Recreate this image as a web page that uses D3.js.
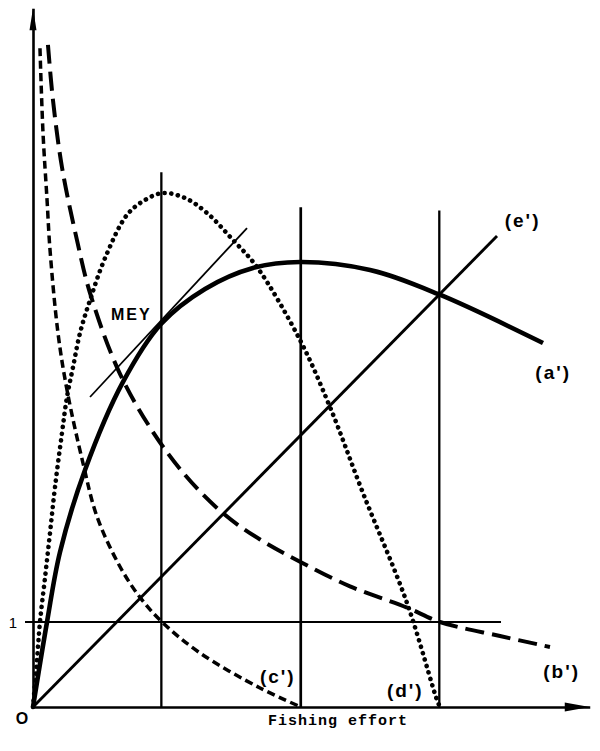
<!DOCTYPE html>
<html>
<head>
<meta charset="utf-8">
<script src="https://cdn.jsdelivr.net/npm/d3@7"></script>
<style>
	body { margin: 0; background: #fff; }
	text { fill: #000; }
</style>
</head>
<body>
<div id="chart"></div>
<script>

// values, x = fishing effort, y in units where the "1" line = 1

// (a') total revenue
var effortA = [0, 0.165, 0.318, 0.612, 1.059, 1.506, 2.024, 2.588, 3.141, 3.965, 4.765, 6.0];
var valueA  = [0, 1.0, 1.824, 2.788, 3.824, 4.506, 4.918, 5.165, 5.235, 5.141, 4.859, 4.282];

// (b') long dashes
var effortB = [0.176, 0.235, 0.341, 0.518, 0.671, 1.0, 1.376, 1.788, 2.235, 2.671, 3.141, 3.729, 4.4, 4.788, 5.494, 6.082];
var valueB  = [7.79, 7.14, 6.35, 5.49, 4.87, 3.97, 3.29, 2.73, 2.28, 1.97, 1.71, 1.42, 1.17, 1.0, 0.835, 0.706];

// (c') short dashes
var effortC = [0.082, 0.118, 0.165, 0.2, 0.294, 0.4, 0.588, 0.753, 1.024, 1.259, 1.518, 1.965, 2.671, 3.153];
var valueC  = [7.75, 6.75, 5.97, 5.38, 4.4, 3.73, 2.87, 2.24, 1.65, 1.29, 1.0, 0.635, 0.224, 0];

// (d') dotted
var effortD = [0, 0.047, 0.082, 0.141, 0.2, 0.259, 0.341, 0.4, 0.471, 0.553, 0.671, 0.847, 1.106, 1.318, 1.529, 1.788, 2.047, 2.353, 2.635, 3.141, 3.494, 3.882, 4.4, 4.753, 4.788];
var valueD  = [0, 0.553, 1.0, 1.518, 2.047, 2.588, 3.224, 3.647, 4.0, 4.4, 4.788, 5.28, 5.79, 5.965, 6.047, 5.988, 5.812, 5.494, 5.176, 4.318, 3.529, 2.518, 1.224, 0.082, 0];

// (e') total cost, straight line
var effortE = [0, 5.459];
var valueE  = [0, 5.541];

// tangent at MEY
var effortT = [0.671, 2.518];
var valueT  = [3.647, 5.635];

// vertical lines and their tops
var effortV = [1.51, 3.15, 4.78];
var topV    = [6.29, 5.88, 5.84];

// horizontal "1" line
var levelOne = 1;
var levelOneFrom = -0.094, levelOneTo = 5.506;

var xMax = 6.55, yMax = 8.22;

var curveLabels = [
	{ t: "(a')", e: 6.12, v: 3.94 },
	{ t: "(b')", e: 6.22, v: 0.42 },
	{ t: "(c')", e: 2.88, v: 0.36 },
	{ t: "(d')", e: 4.38, v: 0.2 },
	{ t: "(e')", e: 5.76, v: 5.72 }
];

var svg = d3.select("#chart").append("svg")
	.attr("width", 600)
	.attr("height", 751);

var x = d3.scaleLinear().domain([0, xMax]).range([33, 33 + xMax * 85]);
var y = d3.scaleLinear().domain([0, yMax]).range([707, 707 - yMax * 85]);

function pairs(xs, ys) {
	return xs.map(function(d, i) { return [d, ys[i]]; });
}

var line = d3.line()
	.x(function(d) { return x(d[0]); })
	.y(function(d) { return y(d[1]); });

var smooth = d3.line()
	.x(function(d) { return x(d[0]); })
	.y(function(d) { return y(d[1]); })
	.curve(d3.curveCatmullRom.alpha(0.5));

//axes, no ticks
svg.append("g")
	.attr("transform", "translate(0," + y(0) + ")")
	.call(d3.axisBottom(x).tickValues([]).tickSizeOuter(0))
	.select(".domain").attr("stroke", "#000").attr("stroke-width", 2.6);

svg.append("g")
	.attr("transform", "translate(" + x(0) + ",0)")
	.call(d3.axisLeft(y).tickValues([]).tickSizeOuter(0))
	.select(".domain").attr("stroke", "#000").attr("stroke-width", 2.6);

// arrow heads
svg.append("path")
	.attr("d", "M" + x(xMax) + "," + y(0) + "l-25,-4.5l0,9z")
	.attr("fill", "#000");
svg.append("path")
	.attr("d", "M" + x(0) + "," + y(yMax) + "l-3.5,22l7,0z")
	.attr("fill", "#000");

//horizontal line at 1
svg.append("path")
	.attr("d", line([[levelOneFrom, levelOne], [levelOneTo, levelOne]]))
	.attr("stroke", "#000").attr("stroke-width", 2.2).attr("fill", "none");

//vertical lines
svg.selectAll(".vline")
	.data(effortV)
	.enter()
	.append("path")
	.attr("class", "vline")
	.attr("d", function(d, i) { return line([[d, 0], [d, topV[i]]]); })
	.attr("stroke", "#000")
	.attr("stroke-width", function(d, i) { return i == 1 ? 2.7 : 2.3; })
	.attr("fill", "none");

//e' cost line
svg.append("path")
	.attr("d", line(pairs(effortE, valueE)))
	.attr("stroke", "#000").attr("stroke-width", 2.9).attr("fill", "none");

//tangent
svg.append("path")
	.attr("d", line(pairs(effortT, valueT)))
	.attr("stroke", "#000").attr("stroke-width", 1.8).attr("fill", "none");

//a'
svg.append("path")
	.attr("d", smooth(pairs(effortA, valueA)))
	.attr("stroke", "#000").attr("stroke-width", 4.6).attr("fill", "none")
	.attr("stroke-linejoin", "round");

//b'
svg.append("path")
	.attr("d", smooth(pairs(effortB, valueB)))
	.attr("stroke", "#000").attr("stroke-width", 4).attr("fill", "none")
	.attr("stroke-dasharray", "19,8");

//c'
svg.append("path")
	.attr("d", smooth(pairs(effortC, valueC)))
	.attr("stroke", "#000").attr("stroke-width", 3.5).attr("fill", "none")
	.attr("stroke-dasharray", "8,4.5");

//d'
svg.append("path")
	.attr("d", smooth(pairs(effortD, valueD)))
	.attr("stroke", "#000").attr("stroke-width", 4.6).attr("fill", "none")
	.attr("stroke-linecap", "round")
	.attr("stroke-dasharray", "0.1,6.6");

//labels
svg.selectAll(".clabel")
	.data(curveLabels)
	.enter()
	.append("text")
	.attr("class", "clabel")
	.attr("x", function(d) { return x(d.e); })
	.attr("y", function(d) { return y(d.v); })
	.attr("text-anchor", "middle")
	.attr("dominant-baseline", "central")
	.attr("font-family", "Liberation Sans, Arial, sans-serif")
	.attr("font-weight", "bold")
	.attr("font-size", 19)
	.attr("letter-spacing", 2)
	.text(function(d) { return d.t; });

svg.append("text")
	.text("MEY")
	.attr("x", 111)
	.attr("y", 320)
	.attr("font-family", "Liberation Sans, Arial, sans-serif")
	.attr("font-weight", "bold")
	.attr("font-size", 16)
	.attr("letter-spacing", 2);

svg.append("text")
	.text("Fishing effort")
	.attr("x", 268)
	.attr("y", 725)
	.attr("font-family", "Liberation Mono, Courier New, monospace")
	.attr("font-weight", "bold")
	.attr("font-size", 15)
	.attr("letter-spacing", 1);

svg.append("text")
	.text("O")
	.attr("x", 22)
	.attr("y", 718)
	.attr("text-anchor", "middle")
	.attr("dominant-baseline", "central")
	.attr("font-family", "Liberation Sans, Arial, sans-serif")
	.attr("font-weight", "bold")
	.attr("font-size", 16);

svg.append("text")
	.text("1")
	.attr("x", 13)
	.attr("y", y(levelOne))
	.attr("text-anchor", "middle")
	.attr("dominant-baseline", "central")
	.attr("font-family", "Liberation Sans, Arial, sans-serif")
	.attr("font-size", 15);

</script>
</body>
</html>
